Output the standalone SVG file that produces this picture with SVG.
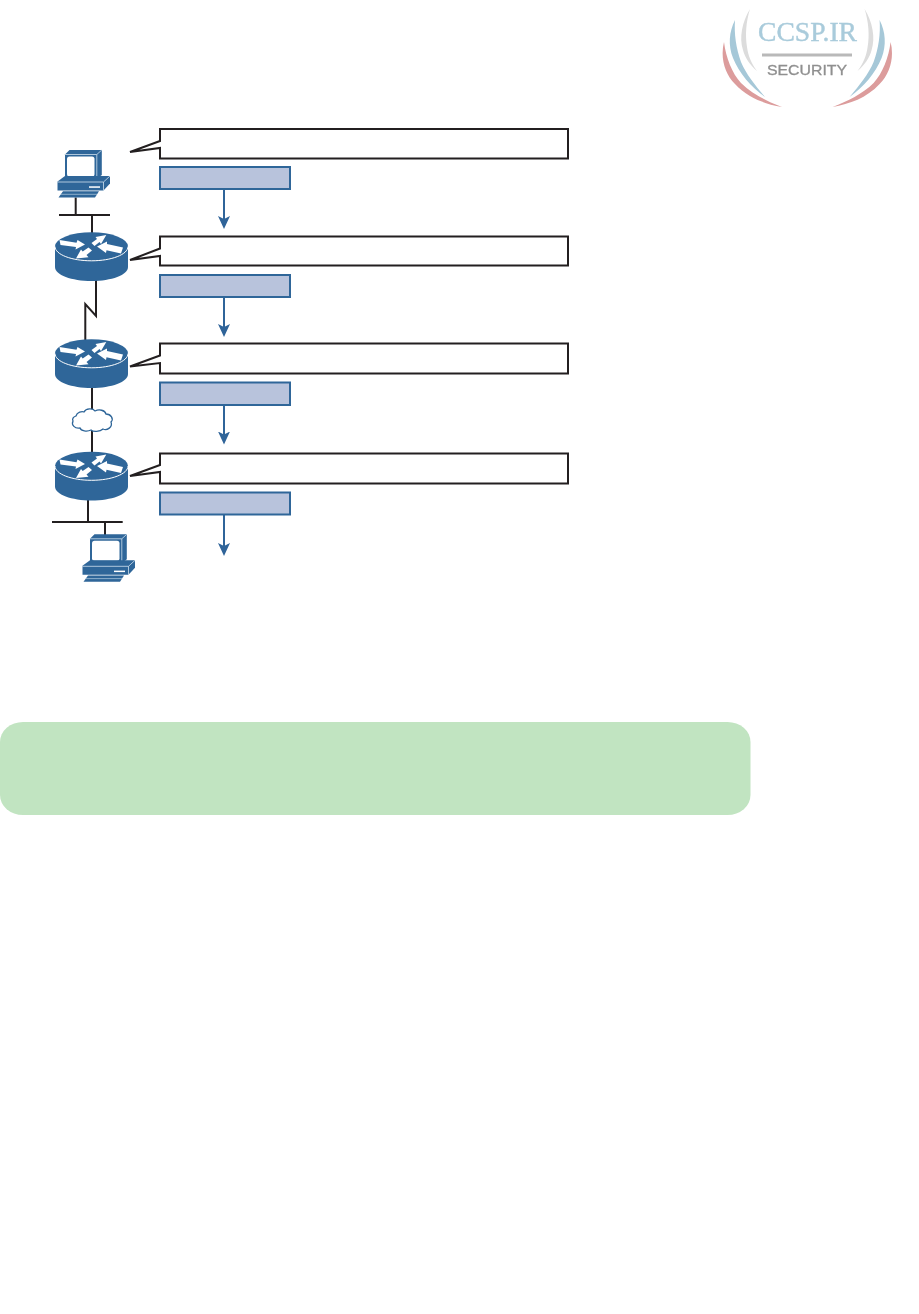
<svg xmlns="http://www.w3.org/2000/svg" width="919" height="1314" viewBox="0 0 919 1314">
<style>
.wire{fill:none;stroke:#231f20;stroke-width:2}
.flow{fill:none;stroke:#2f6499;stroke-width:2}
.call{fill:#fff;stroke:#231f20;stroke-width:2}
.pkt{fill:#b8c3dc;stroke:#2f6699;stroke-width:2}
.blue{fill:#2f6699}
.wh{fill:#fff}
.edge{fill:none;stroke:#fff;stroke-width:1}
</style>
<defs>
<marker id="ah" markerUnits="userSpaceOnUse" markerWidth="15" markerHeight="14" refX="10" refY="6" orient="auto">
<path d="M0 0L13 6L0 12L3 6Z" fill="#2f6499"/>
</marker>
<g id="router">
<path class="blue" d="M-36.500 0V20.500C-36.500 28.500-20 34.500 0 34.500S36.500 28.500 36.500 20.500V0Z"/>
<ellipse class="blue" cx="0" cy="0" rx="36.500" ry="14.300"/>
<path class="edge" d="M-36.500 0C-36.500 8-20 14.300 0 14.300S36.500 8 36.500 0"/>
<path class="wh" d="M-32-6.500L-15-3.800L-14-6.500L-6.500-2L-16 3L-15.500 .5L-31-1.500Z"/>
<path class="wh" d="M0-3.500L5.500-7.500L4-9.500L14.800-11.500L9.500-2.500L8-4.500L3 -.5Z"/>
<path class="wh" d="M5.500 0L15.500-5L15.500-2.500L31.500 1L29.500 7L15 3.800L14.500 6.500Z"/>
<path class="wh" d="M.5 4L-5 8.500L-3 10.800L-15.500 12L-10.500 3L-8.800 5L-3 1Z"/>
</g>
<g id="pc">
<path class="blue" d="M65 154.500L69.500 150H101.800V175L97 178.500H65Z"/>
<path d="M65 154.500H96.800M96.800 154.500L101.800 150M96.800 154.500V178.500" fill="none" stroke="#cfe0ee" stroke-width=".8"/>
<rect x="67" y="156.500" width="27.500" height="20" rx="2.500" fill="#fff"/>
<path class="blue" d="M57.500 181.500L65 176H110V183.500L103.500 190.500H57.500Z"/>
<path d="M57.500 182H103.500L110 176M103.500 182V190.500" fill="none" stroke="#cfe0ee" stroke-width=".8"/>
<rect x="89" y="186.300" width="11" height="1.500" fill="#fff"/>
<path class="blue" d="M58.500 197.500L63 191.300H99L95 197.500Z"/>
<path d="M60 194.300H97" fill="none" stroke="#cfe0ee" stroke-width=".6"/>
</g>
<g id="swoosh">
<path d="M750 9C742 22 739 38 743 50C745 58 750 65 757 71C751 63 748 55 747 47C745 35 746 22 750 9Z" fill="#dcdcdc"/>
<path d="M735 20C729 32 728 45 733 58C739 73 751 87 765 97C755 85 746 74 741 62C736 48 734 34 735 20Z" fill="#a6c8d8"/>
<path d="M724 42C720 58 725 74 735 84C748 98 765 104 782 107C767 101 752 94 741 83C732 73 726 58 724 42Z" fill="#dc9c9c"/>
</g>
<filter id="soft" x="-5%" y="-5%" width="110%" height="110%"><feGaussianBlur stdDeviation=".45"/></filter>
</defs>

<g id="logo" filter="url(#soft)">
<text x="758" y="41" font-family="Liberation Serif, serif" font-size="27.500" fill="#a9cbdb" stroke="#a9cbdb" stroke-width=".4" textLength="99" lengthAdjust="spacingAndGlyphs">CCSP.IR</text>
<rect x="762" y="53.500" width="90" height="3" fill="#b9b9b9"/>
<text x="767" y="75" font-family="Liberation Sans, sans-serif" font-size="14" fill="#8f8f8f" stroke="#8f8f8f" stroke-width=".3" textLength="80" lengthAdjust="spacingAndGlyphs">SECURITY</text>
<use href="#swoosh"/>
<use href="#swoosh" transform="translate(1614.600 0) scale(-1 1)"/>
</g>

<g id="connectors">
<path class="wire" d="M59 215H110M75.700 197.500V215M92 215V233"/>
<path class="wire" d="M96 280V316L85.300 304V340"/>
<path class="wire" d="M92 387V409M92 431V452"/>
<path class="wire" d="M88 500V522M52 522H122.700M105 522V535"/>
<path class="flow" marker-end="url(#ah)" d="M224 189V226"/>
<path class="flow" marker-end="url(#ah)" d="M224 297V334"/>
<path class="flow" marker-end="url(#ah)" d="M224 405V441.500"/>
<path class="flow" marker-end="url(#ah)" d="M224 515V553"/>
</g>

<g id="pc1"><use href="#pc"/></g>
<g id="router1"><use href="#router" x="91.500" y="246.500"/></g>
<g id="router2"><use href="#router" x="91.500" y="353.500"/></g>
<g id="cloud"><path d="M76 416C77 412 82 411 84 412C86 408 93 408 95 411C99 409 105 410 106 414C111 414 114 419 111 422C113 427 107 431 103 429C100 432 93 432 91 430C87 432 81 431 80 428C75 429 71 425 73 421C72 419 73 417 76 416Z" fill="#fff" stroke="#2f6699" stroke-width="1.300"/></g>
<g id="router3"><use href="#router" x="91.500" y="466"/></g>
<g id="pc2"><use href="#pc" x="25" y="384.300"/></g>

<g id="callout1"><path class="call" d="M160 129H568V158.500H160V148L130 152L160 141Z"/></g>
<g id="callout2"><path class="call" d="M160 236.500H568V265.500H160V256L130 260L160 248.500Z"/></g>
<g id="callout3"><path class="call" d="M160 343.500H568V373.500H160V363L130 366.500L160 355.500Z"/></g>
<g id="callout4"><path class="call" d="M160 453.500H568V483.500H160V472L130 476L160 465Z"/></g>

<g id="packet1"><rect class="pkt" x="160" y="167" width="130" height="22"/></g>
<g id="packet2"><rect class="pkt" x="160" y="275" width="130" height="22"/></g>
<g id="packet3"><rect class="pkt" x="160" y="382.500" width="130" height="22.500"/></g>
<g id="packet4"><rect class="pkt" x="160" y="492.500" width="130" height="22"/></g>

<g id="note"><rect x="0" y="722" width="750.500" height="93" rx="23" ry="20" fill="#c1e4c1"/></g>
</svg>
